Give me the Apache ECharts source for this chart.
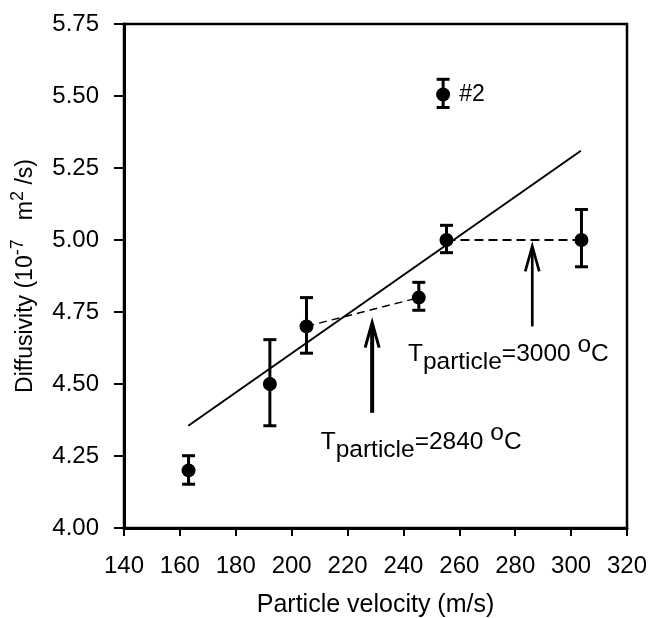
<!DOCTYPE html>
<html>
<head>
<meta charset="utf-8">
<script src="https://cdn.jsdelivr.net/npm/echarts@6/dist/echarts.min.js"></script>
<style>
html,body{margin:0;padding:0;background:#fff;}
#chart{width:652px;height:618px;}
</style>
</head>
<body>
<div id="chart"></div>
<script>
// ---- data ----
const velocity    = [163.1, 192.2, 205.3, 245.5, 255.4, 303.7, 254.2];
const diffusivity = [4.20, 4.50, 4.70, 4.80, 5.00, 5.00, 5.505];
const errLow      = [4.152, 4.355, 4.607, 4.756, 4.956, 4.907, 5.46];
const errHigh     = [4.251, 4.654, 4.800, 4.853, 5.051, 5.106, 5.558];
const pointLabels = ['', '', '', '', '', '', '#2'];
// linear fit end points
const fitX = [163, 303.5];
const fitY = [4.355, 5.31];
// dashed connections (indices into the point arrays)
const dashPairs = [[2, 3], [4, 5]];
// arrows: x, y start, y tip
const arrowX    = [228.8, 286.1];
const arrowFrom = [4.40, 4.70];
const arrowTo   = [4.713, 4.978];
// annotation text anchors
const noteTemps = ['2840', '3000'];
const noteX     = [210.4, 241.6];
const noteY     = [4.299, 4.605];
const xTicks = [140, 320, 20];
const yTicks = [4.00, 5.75, 0.25];

const FONT = "'Liberation Sans', Arial, Helvetica, sans-serif";
const chart = echarts.init(document.getElementById('chart'), null, {renderer: 'canvas'});

const errData = velocity.map((v, i) => [v, errLow[i], errHigh[i]]);
const pointData = velocity.map((v, i) => {
  const item = {value: [v, diffusivity[i]]};
  if (pointLabels[i]) {
    item.label = {show: true, formatter: pointLabels[i], position: 'right', distance: 9,
      color: '#000', fontSize: 23, fontFamily: FONT, opacity: 1};
  }
  return item;
});

const dashStyles = [
  {width: 1.4, type: [8, 5]},
  {width: 2, type: [9, 5]}
];
const dashSeries = dashPairs.map((p, k) => ({
  type: 'line',
  data: p.map(i => [velocity[i], diffusivity[i]]),
  symbol: 'none',
  lineStyle: {color: '#000', width: dashStyles[k].width, type: dashStyles[k].type},
  z: 2,
  silent: true
}));

const arrowWidths = [4, 2.7];
const arrowData = arrowX.map((x, i) => [x, arrowFrom[i], arrowTo[i], i]);

const noteData = noteX.map((x, i) => [x, noteY[i], i]);

const option = {
  animation: false,
  backgroundColor: '#fff',
  grid: {left: 124, right: 25, top: 24, bottom: 90, show: true, borderColor: '#000', borderWidth: 2.5,
    containLabel: false, outerBoundsMode: 'none'},
  xAxis: {
    type: 'value', min: xTicks[0], max: xTicks[1], interval: xTicks[2],
    name: 'Particle velocity (m/s)', nameLocation: 'middle', nameGap: 65,
    nameTextStyle: {color: '#000', fontSize: 25, fontFamily: FONT},
    axisLine: {show: true, onZero: false, lineStyle: {color: '#000', width: 3}},
    axisTick: {show: true, inside: false, length: 8, lineStyle: {color: '#000', width: 2}},
    axisLabel: {color: '#000', fontSize: 24, fontFamily: FONT, margin: 26},
    splitLine: {show: false}
  },
  yAxis: {
    type: 'value', min: yTicks[0], max: yTicks[1], interval: yTicks[2],
    name: '{t|Diffusivity (10}{sup|-7}{t|   m}{sup|2}{t| /s)}',
    nameLocation: 'middle', nameGap: 81, nameRotate: 90,
    nameTextStyle: {
      color: '#000', fontFamily: FONT,
      rich: {
        t: {fontSize: 23, fontFamily: FONT, color: '#000'},
        sup: {fontSize: 18, fontFamily: FONT, color: '#000', padding: [0, 0, 16, 0]}
      }
    },
    axisLine: {show: true, onZero: false, lineStyle: {color: '#000', width: 3}},
    axisTick: {show: true, inside: false, length: 10, lineStyle: {color: '#000', width: 2}},
    axisLabel: {color: '#000', fontSize: 24, fontFamily: FONT, margin: 25,
      formatter: v => v.toFixed(2)},
    splitLine: {show: false}
  },
  series: [
    {
      type: 'line',
      data: fitX.map((x, i) => [x, fitY[i]]),
      symbol: 'none',
      lineStyle: {color: '#000', width: 2},
      z: 2, silent: true
    },
    ...dashSeries,
    {
      type: 'custom',
      data: errData,
      z: 3, silent: true,
      renderItem: (params, api) => {
        const x = api.value(0);
        const lo = api.coord([x, api.value(1)]);
        const hi = api.coord([x, api.value(2)]);
        const cw = 6.5;
        const st = {stroke: '#000', lineWidth: 3};
        return {type: 'group', children: [
          {type: 'line', shape: {x1: lo[0], y1: lo[1], x2: hi[0], y2: hi[1]}, style: st},
          {type: 'line', shape: {x1: lo[0] - cw, y1: lo[1], x2: lo[0] + cw, y2: lo[1]}, style: st},
          {type: 'line', shape: {x1: hi[0] - cw, y1: hi[1], x2: hi[0] + cw, y2: hi[1]}, style: st}
        ]};
      }
    },
    {
      type: 'scatter',
      data: pointData,
      symbol: 'circle', symbolSize: 14,
      itemStyle: {color: '#000', opacity: 1},
      z: 4
    },
    {
      type: 'custom',
      data: arrowData,
      z: 3, silent: true,
      renderItem: (params, api) => {
        const x = api.value(0);
        const a = api.coord([x, api.value(1)]);
        const b = api.coord([x, api.value(2)]);
        const w = arrowWidths[api.value(3)];
        const st = {stroke: '#000', lineWidth: w, fill: null};
        return {type: 'group', children: [
          {type: 'line', shape: {x1: a[0], y1: a[1], x2: b[0], y2: b[1] + 2}, style: st},
          {type: 'polyline', shape: {points: [[b[0] - 7, b[1] + 25], [b[0], b[1]], [b[0] + 7, b[1] + 25]]},
            style: {stroke: '#000', lineWidth: Math.min(w, 3), fill: null}}
        ]};
      }
    },
    {
      type: 'custom',
      data: noteData,
      z: 5, silent: true,
      renderItem: (params, api) => {
        const p = api.coord([api.value(0), api.value(1)]);
        const idx = api.value(2);
        return {
          type: 'text',
          x: p[0], y: p[1],
          style: {
            text: '{t|T}{sub|particle}{t|=' + noteTemps[idx] + ' }{sup|o}{t|C}',
            align: 'left', verticalAlign: 'middle',
            fill: '#000',
            rich: {
              t: {fontSize: 24.5, fontFamily: FONT, fill: '#000'},
              sub: {fontSize: 24.5, fontFamily: FONT, fill: '#000', padding: [16, 0, 0, 0]},
              sup: {fontSize: 24.5, fontFamily: FONT, fill: '#000', padding: [0, 0, 18, 0]}
            }
          }
        };
      }
    }
  ]
};
chart.setOption(option);
</script>
</body>
</html>
